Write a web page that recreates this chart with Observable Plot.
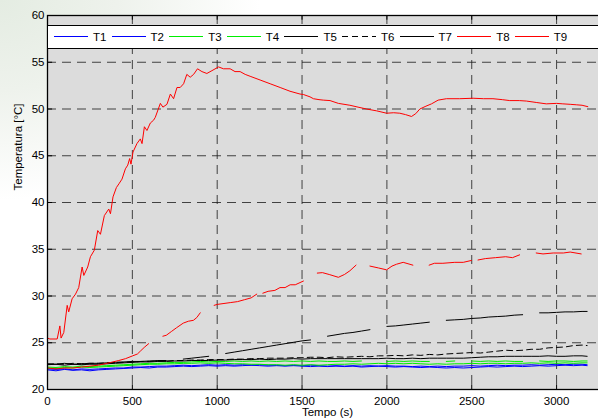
<!DOCTYPE html>
<html><head><meta charset="utf-8">
<script src="https://cdn.jsdelivr.net/npm/d3@7"></script>
<script src="https://cdn.jsdelivr.net/npm/@observablehq/plot@0.6"></script>
<style>
html,body{margin:0;padding:0;width:598px;height:420px;overflow:hidden;}
body{background:radial-gradient(ellipse 260px 200px at 0 0,#e4ece2 0%,#eef2ec 45%,#ffffff 100%);}
#wrap{position:relative;width:598px;height:420px;overflow:hidden;}
#chart{position:absolute;left:0;top:0;}
#legend{position:absolute;left:47px;top:25px;width:580px;height:22px;background:#fff;border:1px solid #000;font:11.5px "Liberation Sans",Arial,sans-serif;color:#000;}
.item{position:absolute;top:0;height:22px;}
.item svg{position:absolute;left:0;top:0;}
.item span{position:absolute;left:39px;top:4px;line-height:14px;white-space:nowrap;}
</style></head>
<body><div id="wrap"><div id="chart"></div><div id="legend"></div></div>
<script>
// ---- data ----
const serie = ["T1","T2","T3","T4","T5","T6","T7","T8","T9"];
const cores = ["#0000ff","#0000ff","#00ee00","#00ee00","#000000","#000000","#000000","#ff0000","#ff0000"];
const tracejado = [false,false,false,false,false,true,false,false,false];

const xTicks = [0,500,1000,1500,2000,2500,3000];
const yTicks = [20,25,30,35,40,45,50,55,60];
const xGrid = [500,1000,1500,2000,2500,3000];
const yGrid = [25,30,35,40,45,50,55];

const tempo = [0,50,100,150,200,250,300,350,400,450,500,550,600,650,700,750,800,850,900,950,1000,
  1050,1100,1150,1200,1250,1300,1350,1400,1450,1500,1550,1600,1650,1700,1750,1800,1850,1900,1950,2000,
  2050,2100,2150,2200,2250,2300,2350,2400,2450,2500,2550,2600,2650,2700,2750,2800,2850,2900,2950,3000,
  3050,3100,3150,3180];

const T1 = [22.1,22.0,22.15,22.05,22.1,22.0,22.1, 22.15,22.2,22.25,22.3,22.35,22.3,22.4,
  22.4,22.45,22.5,22.45,22.5,22.55,22.5, 22.55,22.5,22.55,22.6,22.55,22.5,22.55,
  22.5,22.55,22.5,22.45,22.5,22.45,22.5, 22.45,22.5,22.4,22.45,22.5,22.45,22.4,
  22.45,22.4,22.35,22.4,22.35,22.3,22.35, 22.3,22.35,22.4,22.45,22.4,22.45,22.5,
  22.45,22.5,22.55,22.5,22.55,22.6,22.55, 22.6,22.55];
const T2 = [22.2,22.15,22.2,22.1,22.2,22.15,22.2, 22.25,22.3,22.3,22.4,22.4,22.45,22.5,
  22.5,22.55,22.6,22.55,22.6,22.65,22.6, 22.65,22.6,22.65,22.6,22.65,22.6,22.6,
  22.55,22.6,22.55,22.6,22.55,22.5,22.55, 22.5,22.55,22.5,22.55,22.5,22.55,22.5,
  22.5,22.45,22.5,22.45,22.5,22.45,22.5, 22.5,22.55,22.5,22.55,22.6,22.55,22.6,
  22.6,22.65,22.6,22.65,22.7,22.65,22.7, 22.7,22.65];
const T3 = [22.4,22.35,22.45,22.4,22.5,22.45,22.5, 22.55,22.6,22.65,22.7,22.75,22.8,22.8,
  22.85,22.9,22.9,22.95,23.0,22.95,23.0, 23.0,23.05,23.0,23.05,23.0,23.05,23.0,
  23.05,23.0,23.05,23.0,23.05,23.0,23.0, 23.05,23.0,23.05,null,null,23.0,23.05,
  23.0,23.05,23.0,23.0,null,23.0,23.05, null,23.05,23.0,23.05,23.0,23.05,23.0,
  23.0,null,23.05,23.0,23.05,23.05,23.0, 23.05,23.05];
const T4 = [22.3,22.25,22.35,22.3,22.4,22.35,22.4, 22.45,22.5,22.55,22.6,22.65,22.7,22.7,
  22.75,22.75,22.8,22.8,22.85,22.8,22.85, 22.8,22.75,22.75,22.7,22.7,22.65,22.65,
  22.6,22.65,22.6,22.65,22.6,22.65,22.7, 22.7,22.75,22.7,22.75,22.8,22.75,22.8,
  22.75,22.8,22.75,22.7,22.75,22.7,22.75, 22.75,22.8,22.75,22.8,22.8,22.75,22.8,
  22.8,22.85,22.8,22.85,22.8,22.85,22.8, 22.85,22.85];
const T5 = [22.65,22.7,22.6,22.7,22.65,22.7,22.7, 22.75,22.8,22.85,22.9,22.95,22.95,23.0,
  23.0,23.05,23.05,23.1,23.1,23.1,23.15, 23.15,23.2,23.2,23.2,23.25,23.2,23.25,
  23.25,23.3,23.25,23.3,23.3,23.3,23.3, 23.3,23.3,23.3,23.3,23.3,23.35,23.3,
  23.3,23.35,23.3,23.35,23.35,23.35,23.35, 23.35,23.4,23.45,23.5,23.5,23.55,23.55,
  23.55,23.55,23.55,23.6,23.55,23.55,23.6, 23.6,23.55];
const T6 = [22.7,22.75,22.7,22.8,22.75,22.8,22.8, 22.85,22.9,22.9,22.95,23.0,23.0,23.05,
  23.05,23.1,23.1,23.15,23.15,23.2,23.2, 23.2,23.25,23.25,23.3,23.3,23.35,23.35,
  23.35,23.4,23.4,23.45,23.45,23.4,23.5, 23.45,23.5,23.55,23.5,23.6,23.6,23.65,
  23.6,23.7,23.65,23.75,23.7,23.8,23.85, 23.9,23.95,23.9,24.0,24.1,24.2,24.15,
  24.2,24.3,24.3,24.45,24.5,24.55,24.7, 24.75,24.7];
const T7 = [22.75,22.7,22.8,22.7,22.75,22.8,22.8, 22.85,22.9,22.95,23.0,23.0,23.05,23.1,
  23.1,null,23.25,23.35,23.45,23.55,null, 23.85,24.0,24.15,24.3,24.45,24.6,24.75,
  24.9,25.05,25.2,25.3,null,25.7,25.85, 26.0,26.1,26.25,26.4,null,26.75,26.8,
  26.9,27.0,27.1,27.2,null,27.4,27.45, 27.5,27.6,27.65,27.75,27.8,27.85,27.95,
  28.0,null,28.2,28.2,28.25,28.3,28.3, 28.35,28.35];

const tempoT8 = [0,14,57,73,80,96,116,125,145,165,184,204,214,237,253,276,296,312,335,361,371,386,
  406,421,439,459,473,484,492,504,527,547,557,571,586,606,625,635,665,680,704,724,743,763,782,802,
  821,841,861,884,910,939,969,1008,1037,1076,1105,1135,1165,1194,1253,1312,1371,1429,1488,1508,1547,
  1567,1600,1625,1665,1714,1782,1830,1880,1940,1998,2040,2076,2110,2145,2170,2194,2230,2263,2302,
  2351,2429,2508,2570,2625,2680,2724,2780,2822,2880,2939,3000,3037,3080,3116,3150,3184];
const valoresT8 = [25.5,25.4,25.4,26.8,25.5,26.1,29.0,28.3,29.7,30.2,30.9,33.1,32.2,33.1,34.2,34.9,37.0,36.6,38.6,39.3,38.8,40.6,
  41.6,42.0,42.5,43.6,44.0,44.7,44.1,45.4,46.3,46.8,46.3,48.1,47.7,48.5,48.8,49.1,50.6,50.2,50.5,51.6,51.1,52.3,52.3,52.7,
  53.7,53.4,53.7,54.3,54.0,53.8,54.1,54.5,54.3,54.3,54.0,54.0,53.7,53.5,53.1,52.7,52.3,51.9,51.6,51.55,51.3,
  51.1,51.0,50.95,50.9,50.6,50.4,50.2,50.0,49.8,49.55,49.6,49.55,49.4,49.2,49.5,50.0,50.3,50.55,50.95,
  51.1,51.1,51.15,51.1,51.1,51.0,50.9,50.9,50.85,50.7,50.55,50.6,50.55,50.5,50.45,50.4,50.25];

const tempoT9 = [0,50,100,150,200,250,300,350,374,420,460,502,530,547,570,596,640,
  680,700,730,760,800,830,860,880,900,940,
  982,1000,1040,1080,1120,1160,1200,1233,1250,
  1269,1300,1340,1370,1400,1430,1460,1508,1550,
  1590,1620,1660,1714,1750,1782,1818,1860,
  1900,1950,1998,2030,2057,2096,2153,2200,
  2249,2280,2330,2400,2450,2498,2518,
  2537,2580,2640,2700,2740,2782,2830,
  2880,2920,2980,3040,3080,3145];
const valoresT9 = [22.3,22.2,22.3,22.3,22.4,22.5,22.6,22.8,22.9,23.1,23.3,23.6,23.8,24.1,24.5,24.9,null,
  25.7,25.8,26.2,26.6,27.1,27.3,27.4,27.7,28.2,null,
  29.0,29.1,29.2,29.3,29.4,29.6,29.8,30.2,null,
  30.3,30.5,30.6,30.9,30.9,31.2,31.2,31.6,null,
  32.45,32.5,32.3,32.0,32.3,32.7,33.3,null,
  33.2,33.0,32.8,33.2,33.4,33.6,33.3,null,
  33.3,33.5,33.5,33.6,33.6,33.8,null,
  33.85,34.0,34.1,34.2,34.1,34.4,null,
  34.6,34.5,34.6,34.6,34.7,34.5];

// ---- tables ----
const comuns = [T1,T2,T3,T4,T5,T6,T7];
const tabelas = comuns.map(vals => tempo.map((t, i) => ({t, v: vals[i]})));
tabelas.push(tempoT8.map((t, i) => ({t, v: valoresT8[i]})));
tabelas.push(tempoT9.map((t, i) => ({t, v: valoresT9[i]})));

const linhas = tabelas.map((tab, k) => Plot.line(tab, {
  x: "t", y: "v", stroke: cores[k], strokeWidth: 1,
  strokeDasharray: tracejado[k] ? "6,4" : null
}));

const font = '"Liberation Sans", Arial, sans-serif';
const grade = {stroke: "#1a1a1a", strokeOpacity: 0.8, strokeDasharray: "9,6", strokeWidth: 1};

const chart = Plot.plot({
  width: 640, height: 420,
  marginLeft: 47, marginRight: 33, marginTop: 15, marginBottom: 31,
  x: {domain: [0, 3300]},
  y: {domain: [20, 60]},
  style: {fontFamily: font, fontSize: "11.5px", background: "transparent", color: "#000"},
  marks: [
    Plot.frame({fill: "#dcdcdc", stroke: null}),
    Plot.ruleX(xGrid, grade),
    Plot.ruleY(yGrid, grade),
    ...linhas,
    Plot.ruleX(xTicks, {y1: 20, y2: 20.5, stroke: "#000"}),
    Plot.ruleX(xTicks, {y1: 59.5, y2: 60, stroke: "#000"}),
    Plot.ruleY(yTicks, {x1: 0, x2: 30, stroke: "#000"}),
    Plot.frame({stroke: "#000", strokeWidth: 1.3}),
    Plot.axisX({ticks: xTicks, tickSize: 0, tickPadding: 7, label: null, tickFormat: d => String(d)}),
    Plot.axisY({ticks: yTicks, tickSize: 0, tickPadding: 3, label: null}),
    Plot.text(["Tempo (s)"], {frameAnchor: "bottom", dy: 26, fontSize: 11.5, fill: "#000"}),
    Plot.text(["Temperatura [°C]"], {frameAnchor: "left", rotate: -90, dx: -29, dy: -12, fontSize: 11.5, fill: "#000"})
  ]
});
chart.style.maxWidth = "none";
chart.style.overflow = "visible";
document.getElementById("chart").appendChild(chart);

// ---- legend (inside the axes, MATLAB style) ----
const leg = document.getElementById("legend");
serie.forEach((nome, i) => {
  const it = document.createElement("div");
  it.className = "item";
  it.style.left = (6 + i * 57.6) + "px";
  it.style.width = "60px";
  it.innerHTML = `<svg width="36" height="22"><line x1="0" x2="34" y1="10.5" y2="10.5" stroke="${cores[i]}" stroke-width="1" ${tracejado[i] ? 'stroke-dasharray="6,4"' : ''}/></svg><span>${nome}</span>`;
  leg.appendChild(it);
});
</script></body></html>
